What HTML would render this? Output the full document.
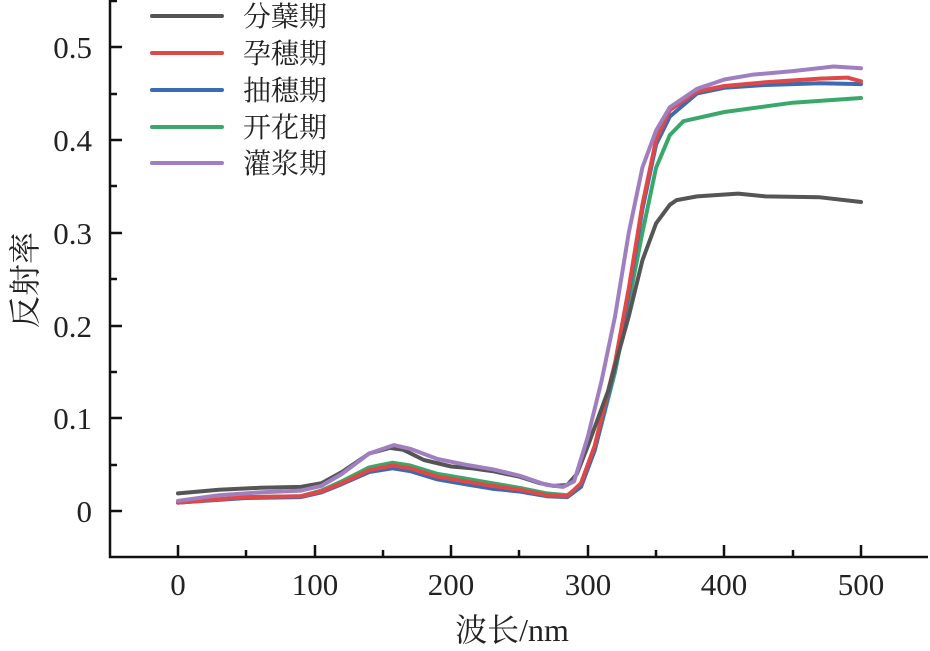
<!DOCTYPE html><html><head><meta charset="utf-8"><style>body{margin:0;background:#fff}svg{display:block}text{font-family:"Liberation Serif","Noto Serif CJK SC",serif;fill:#222}</style></head><body>
<svg width="930" height="651" viewBox="0 0 930 651">
<g stroke="#111" stroke-width="2.5" fill="none">
<path d="M110,0 V557 H928"/>
<path d="M110,511h12M110,418h12M110,326h12M110,233h12M110,140h12M110,47h12M110,465h7M110,372h7M110,279h7M110,186h7M110,94h7M110,1h7"/>
<path d="M178,557v-12M315,557v-12M451,557v-12M588,557v-12M724,557v-12M861,557v-12M246,557v-7M383,557v-7M519,557v-7M656,557v-7M793,557v-7"/>
</g>
<g font-size="31" text-anchor="end">
<text x="92" y="522">0</text><text x="92" y="429">0.1</text><text x="92" y="337">0.2</text><text x="92" y="244">0.3</text><text x="92" y="151">0.4</text><text x="92" y="58">0.5</text>
</g>
<g font-size="31" text-anchor="middle">
<text x="178" y="595">0</text><text x="315" y="595">100</text><text x="451" y="595">200</text><text x="588" y="595">300</text><text x="724" y="595">400</text><text x="861" y="595">500</text>
<text x="512" y="641" font-size="32">波长/nm</text>
<text transform="translate(36,280) rotate(-90)" font-size="32">反射率</text>
</g>
<g fill="none" stroke-width="4" stroke-linejoin="round" stroke-linecap="round" id="c"></g>
<g stroke-width="4" stroke-linecap="round">
<line x1="152" y1="16" x2="222" y2="16" stroke="#555"/>
<line x1="152" y1="53" x2="222" y2="53" stroke="#e04848"/>
<line x1="152" y1="90" x2="222" y2="90" stroke="#3d6bb3"/>
<line x1="152" y1="127" x2="222" y2="127" stroke="#3aa86a"/>
<line x1="152" y1="163" x2="222" y2="163" stroke="#a07fc0"/>
</g>
<g font-size="28"><text x="243" y="26">分蘖期</text><text x="243" y="63">孕穗期</text><text x="243" y="100">抽穗期</text><text x="243" y="137">开花期</text><text x="243" y="173">灌浆期</text></g>
</svg>
<script>
const S={
"#3aa86a":[[0,.009],[50,.015],[90,.016],[105,.022],[120,.032],[140,.047],[157,.052],[170,.049],[190,.040],[210,.035],[230,.030],[250,.025],[270,.019],[285,.017],[295,.028],[305,.065],[320,.150],[330,.225],[340,.300],[350,.370],[360,.405],[370,.420],[400,.430],[450,.440],[500,.445]],
"#3d6bb3":[[0,.009],[50,.014],[90,.015],[105,.020],[120,.029],[140,.042],[157,.046],[170,.043],[190,.034],[210,.029],[230,.024],[250,.021],[270,.016],[285,.015],[295,.026],[305,.065],[320,.155],[330,.235],[340,.325],[350,.395],[360,.425],[380,.450],[400,.456],[430,.459],[470,.461],[500,.460]],
"#e04848":[[0,.009],[50,.015],[90,.016],[105,.021],[120,.030],[140,.044],[157,.049],[170,.046],[190,.037],[210,.032],[230,.027],[250,.023],[270,.017],[285,.016],[295,.030],[305,.070],[320,.160],[330,.240],[340,.330],[350,.400],[360,.432],[380,.452],[400,.458],[430,.462],[470,.466],[490,.467],[500,.463]],
"#555":[[0,.019],[30,.023],[60,.025],[90,.026],[105,.030],[120,.042],[140,.062],[155,.068],[165,.066],[180,.055],[200,.048],[215,.046],[230,.043],[250,.037],[265,.030],[275,.027],[285,.028],[292,.040],[300,.070],[315,.130],[330,.210],[340,.270],[350,.310],[360,.330],[365,.335],[380,.339],[410,.342],[430,.339],[470,.338],[500,.333]],
"#a07fc0":[[0,.011],[30,.017],[60,.020],[90,.022],[105,.027],[120,.040],[140,.062],[158,.071],[170,.067],[190,.056],[210,.050],[230,.045],[250,.038],[270,.028],[282,.026],[290,.032],[300,.080],[310,.140],[320,.210],[330,.300],[340,.370],[350,.410],[360,.435],[380,.455],[400,.465],[420,.470],[450,.474],[480,.479],[500,.477]]};
let h="";for(const k in S){h+='<polyline stroke="'+k+'" points="'+S[k].map(p=>(178+1.366*p[0]).toFixed(1)+','+(511-928*p[1]).toFixed(1)).join(' ')+'"/>';}
document.getElementById('c').innerHTML=h;
</script>
</body></html>
